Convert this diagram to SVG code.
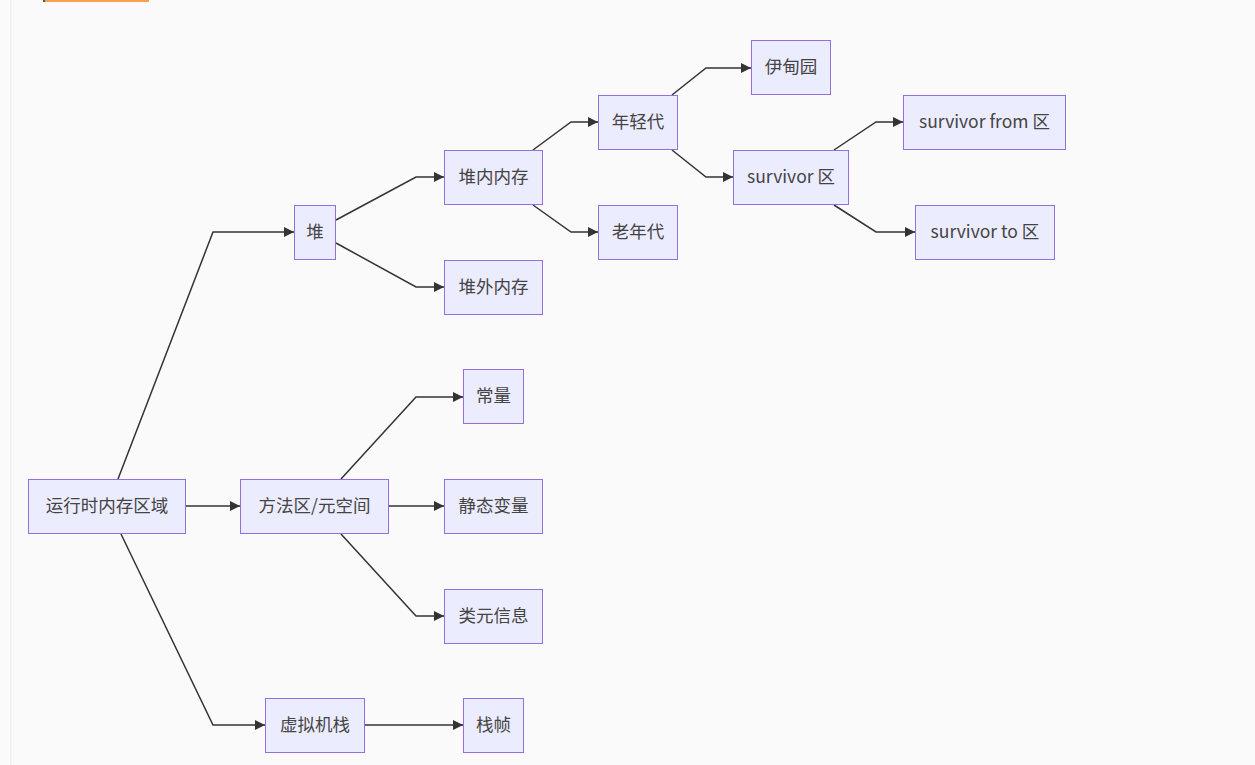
<svg xmlns="http://www.w3.org/2000/svg" width="1255" height="765" viewBox="0 0 1255 765">
<style>
.node rect{fill:#ECECFF;stroke:#9370DB;stroke-width:1}
.node text{font-family:"Noto Sans CJK SC","Microsoft YaHei",sans-serif;font-size:17.5px;fill:#444;text-anchor:middle;dominant-baseline:central}
.edges path{fill:none;stroke:#333;stroke-width:1.5}
</style>
<defs>
<marker id="arr" viewBox="0 0 10 10" refX="10" refY="5" markerWidth="10" markerHeight="10" markerUnits="userSpaceOnUse" orient="auto">
<path d="M0,0 L10,5 L0,10 z" fill="#333"/>
</marker>
</defs>
<rect x="0" y="0" width="1255" height="765" fill="#fafafa"/>
<rect x="10" y="0" width="1.5" height="765" fill="#f0f0f0"/>
<rect x="45" y="0" width="104" height="2" fill="#f6a14f"/>
<rect x="43" y="0" width="2" height="2" fill="#555"/>
<g class="edges">
<path d="M118,479 L213,232 L294,232" marker-end="url(#arr)"/>
<path d="M186,506 L240,506" marker-end="url(#arr)"/>
<path d="M121,534 L213,725 L265,725" marker-end="url(#arr)"/>
<path d="M336,220 L416,177 L444,177" marker-end="url(#arr)"/>
<path d="M336,243 L416,287 L444,287" marker-end="url(#arr)"/>
<path d="M341,479 L416,397 L463,397" marker-end="url(#arr)"/>
<path d="M389,506 L444,506" marker-end="url(#arr)"/>
<path d="M341,534 L416,616 L444,616" marker-end="url(#arr)"/>
<path d="M365,725 L463,725" marker-end="url(#arr)"/>
<path d="M533,150 L571,122 L598,122" marker-end="url(#arr)"/>
<path d="M533,205 L571,232 L598,232" marker-end="url(#arr)"/>
<path d="M672,95 L706,68 L751,68" marker-end="url(#arr)"/>
<path d="M672,150 L706,177 L733,177" marker-end="url(#arr)"/>
<path d="M834,150 L876,122 L903,122" marker-end="url(#arr)"/>
<path d="M834,205 L876,232 L915,232" marker-end="url(#arr)"/>
</g>
<g id="n-runtime" class="node"><rect x="28.5" y="479.5" width="157" height="54"/><text x="107" y="504">运行时内存区域</text></g>
<g id="n-method" class="node"><rect x="240.5" y="479.5" width="148" height="54"/><text x="314.5" y="504">方法区/元空间</text></g>
<g id="n-heap" class="node"><rect x="294.5" y="205.5" width="41" height="54"/><text x="315" y="230">堆</text></g>
<g id="n-vmstack" class="node"><rect x="265.5" y="698.5" width="99" height="54"/><text x="315" y="723">虚拟机栈</text></g>
<g id="n-onheap" class="node"><rect x="444.5" y="150.5" width="98" height="54"/><text x="493.5" y="175">堆内内存</text></g>
<g id="n-offheap" class="node"><rect x="444.5" y="260.5" width="98" height="54"/><text x="493.5" y="285">堆外内存</text></g>
<g id="n-const" class="node"><rect x="463.5" y="369.5" width="60" height="54"/><text x="493.5" y="394">常量</text></g>
<g id="n-static" class="node"><rect x="444.5" y="479.5" width="98" height="54"/><text x="493.5" y="504">静态变量</text></g>
<g id="n-classmeta" class="node"><rect x="444.5" y="589.5" width="98" height="54"/><text x="493.5" y="614">类元信息</text></g>
<g id="n-frame" class="node"><rect x="463.5" y="698.5" width="60" height="54"/><text x="493.5" y="723">栈帧</text></g>
<g id="n-young" class="node"><rect x="598.5" y="95.5" width="79" height="54"/><text x="638" y="120">年轻代</text></g>
<g id="n-old" class="node"><rect x="598.5" y="205.5" width="79" height="54"/><text x="638" y="230">老年代</text></g>
<g id="n-eden" class="node"><rect x="751.5" y="40.5" width="79" height="54"/><text x="791" y="65">伊甸园</text></g>
<g id="n-survivor" class="node"><rect x="733.5" y="150.5" width="115" height="54"/><text x="791" y="175">survivor 区</text></g>
<g id="n-from" class="node"><rect x="903.5" y="95.5" width="162" height="54"/><text x="984.5" y="120">survivor from 区</text></g>
<g id="n-to" class="node"><rect x="915.5" y="205.5" width="139" height="54"/><text x="985" y="230">survivor to 区</text></g>
</svg>
